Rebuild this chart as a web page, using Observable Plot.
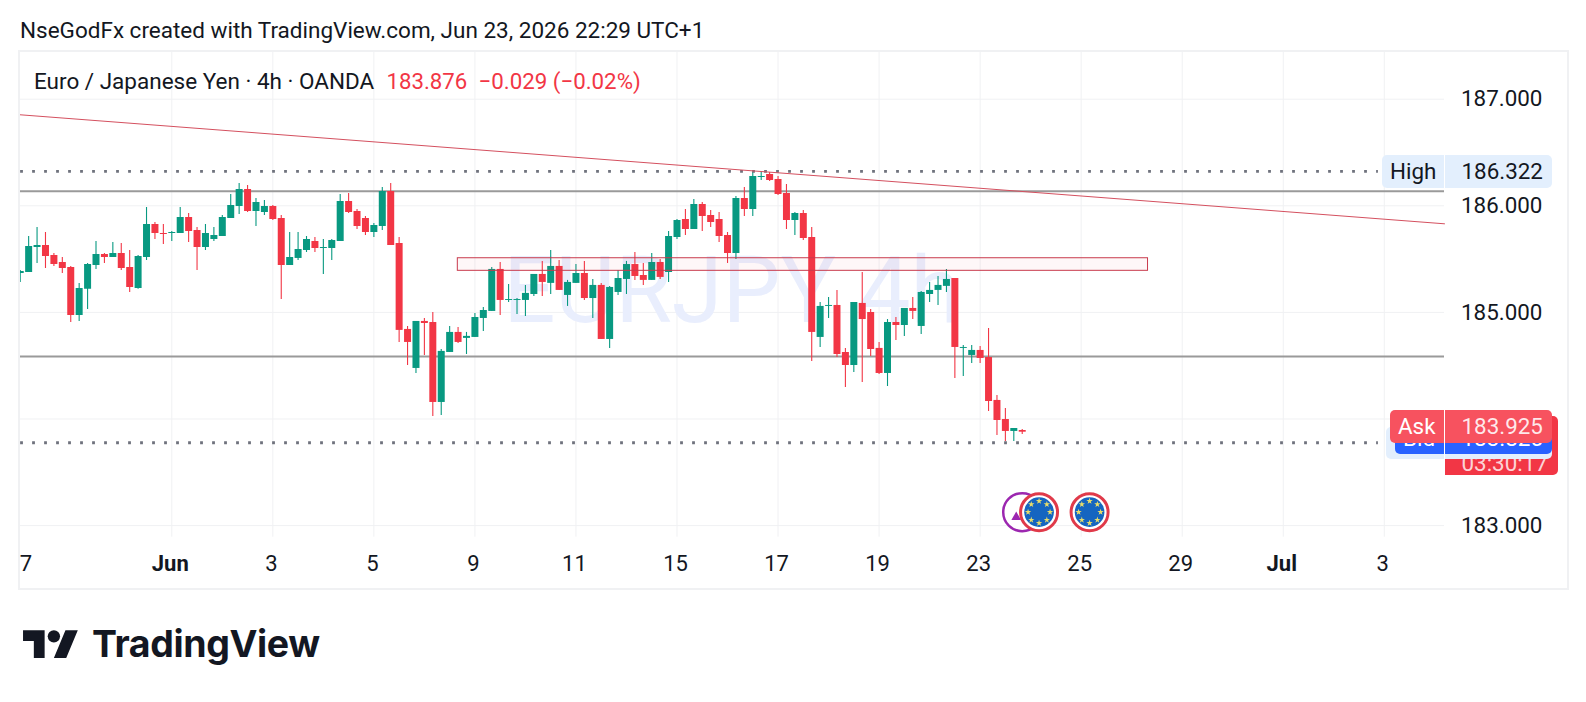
<!DOCTYPE html>
<html>
<head>
<meta charset="utf-8">
<script src="https://cdn.jsdelivr.net/npm/d3@7"></script>
<script src="https://cdn.jsdelivr.net/npm/@observablehq/plot@0.6"></script>
<style>
html,body{margin:0;padding:0;background:#fff;overflow:hidden}
#page{position:relative;width:1586px;height:702px;font-family:Roboto,sans-serif;color:#131722;overflow:hidden}
#page>svg{position:absolute;left:0;top:0}
.abs{position:absolute;white-space:nowrap;font-size:22.5px;line-height:1}
.pill{position:absolute;display:flex;align-items:center;font-size:22.4px;box-sizing:border-box;white-space:nowrap}
</style>
</head>
<body>
<div id="page"></div>
<script>
const open = [185.365,185.374,185.609,185.628,185.534,185.468,185.421,184.971,185.216,185.440,185.543,185.515,185.553,185.421,185.225,185.515,185.824,185.741,185.741,185.741,185.890,185.769,185.609,185.684,185.713,185.881,185.994,186.153,185.947,185.937,
185.994,185.881,185.440,185.506,185.581,185.666,185.600,185.600,185.666,186.041,185.947,185.881,185.750,185.806,186.134,185.647,184.840,184.474,184.915,184.905,184.155,184.624,184.812,184.756,184.765,184.943,185.009,185.403,185.112,185.112,
185.112,185.168,185.356,185.272,185.431,185.159,185.272,185.365,185.130,185.253,184.746,185.187,185.309,185.449,185.346,185.300,185.468,185.374,185.703,185.871,185.778,186.012,185.909,185.871,185.722,185.553,186.069,185.966,186.266,186.294,
186.247,186.116,185.862,185.928,185.703,184.765,185.056,185.065,184.624,184.502,185.084,184.999,184.662,184.427,184.905,184.877,185.037,184.868,185.168,185.206,185.244,185.318,184.662,184.596,184.643,184.577,184.174,183.995,183.883,183.892];
const high = [185.393,185.713,185.796,185.750,185.553,185.515,185.431,185.272,185.459,185.666,185.553,185.656,185.647,185.581,185.534,185.984,185.843,185.824,185.759,185.984,185.928,185.796,185.824,185.796,185.909,186.106,186.210,186.191,186.069,186.050,
186.003,185.909,185.750,185.750,185.713,185.703,185.684,185.684,186.106,186.116,185.966,185.900,185.834,186.172,186.210,185.703,184.868,184.915,184.943,184.999,184.652,184.868,184.859,184.812,184.990,185.046,185.421,185.468,185.262,185.130,
185.253,185.356,185.478,185.581,185.487,185.300,185.449,185.478,185.309,185.272,185.244,185.393,185.478,185.562,185.459,185.553,185.496,185.759,185.871,185.966,186.059,186.031,185.956,185.937,185.750,186.087,186.172,186.313,186.322,186.313,
186.275,186.200,185.937,185.956,185.796,185.093,185.140,185.206,184.662,185.093,185.374,185.027,184.718,184.933,184.952,185.037,185.140,185.196,185.281,185.337,185.403,185.318,184.690,184.690,184.680,184.849,184.221,184.099,183.911,183.901];
const low = [185.281,185.374,185.459,185.412,185.431,185.365,184.905,184.915,185.027,185.403,185.459,185.515,185.393,185.187,185.216,185.487,185.684,185.637,185.666,185.741,185.656,185.393,185.581,185.666,185.713,185.881,185.918,185.937,185.806,185.909,
185.862,185.121,185.440,185.487,185.562,185.562,185.356,185.487,185.666,185.928,185.778,185.722,185.703,185.769,185.628,184.718,184.502,184.427,184.596,184.024,184.033,184.624,184.709,184.605,184.765,184.821,185.009,184.971,185.093,184.980,
184.962,185.149,185.149,185.168,185.206,185.056,185.272,185.112,184.943,184.746,184.662,185.159,185.168,185.300,185.253,185.300,185.309,185.281,185.684,185.722,185.778,185.759,185.796,185.656,185.459,185.496,185.900,185.900,186.238,186.228,
186.097,185.778,185.722,185.675,184.540,184.671,184.943,184.577,184.296,184.437,184.343,184.587,184.418,184.305,184.737,184.775,184.933,184.793,185.093,185.065,185.187,184.380,184.399,184.521,184.521,184.070,183.845,183.789,183.789,183.854];
const close = [185.384,185.619,185.628,185.525,185.449,185.412,184.971,185.225,185.449,185.543,185.515,185.553,185.412,185.234,185.525,185.824,185.741,185.731,185.750,185.890,185.759,185.609,185.741,185.722,185.890,186.003,186.153,185.947,186.031,185.994,
185.871,185.440,185.515,185.590,185.684,185.600,185.609,185.675,186.041,185.937,185.806,185.750,185.815,186.134,185.628,184.831,184.718,184.915,184.896,184.155,184.634,184.812,184.718,184.775,184.952,185.018,185.403,185.112,185.121,185.121,
185.178,185.356,185.281,185.431,185.206,185.281,185.365,185.130,185.253,184.746,185.234,185.318,185.449,185.337,185.300,185.468,185.328,185.713,185.862,185.778,186.012,185.900,185.843,185.713,185.553,186.069,185.966,186.275,186.275,186.238,
186.106,185.862,185.928,185.694,184.812,185.056,185.065,184.605,184.502,185.093,184.933,184.652,184.427,184.905,184.877,185.037,185.009,185.187,185.206,185.253,185.309,184.671,184.671,184.643,184.568,184.164,183.986,183.883,183.911,183.876];

const priceTicks = [187,186,185,184,183];
const priceLabelTicks = [187,186,185,183];
const dayTicks = [0.86,30,42,54,66,78,90,102,114,126,138,162];
const dayLabels = ["7","3","5","9","11","15","17","19","23","25","29","3"];
const monthTicks = [18,150];
const monthLabels = ["Jun","Jul"];
const sessionHigh = 186.322;
const sessionLow = 183.777;
const levels = [186.137,184.586];
const trendBar = [-0.05,169.15];
const trendPrice = [186.854,185.831];
const zoneBar = [51.97,133.94];
const zonePrice = [185.39,185.508];
const euEventBars = [121,127];
const otherEventBars = [119];
const eventPrice = 183.126;
const watermark = "EURJPY 4h";

const GREEN = "#089981", RED = "#f23645", GRID = "#f0f1f3", INK = "#131722";
const FONT = "Roboto, sans-serif";
const candles = open.map((o,i)=>({i,o,h:high[i],l:low[i],c:close[i],col:close[i]>=o?GREEN:RED}));
const eu = euEventBars.map(b=>({b}));
const other = otherEventBars.map(b=>({b}));
const starAngles = d3.range(8).map(k=>k*Math.PI/4);
const starRadius = 11;

const chart = Plot.plot({
  width:1586, height:702,
  marginLeft:19.3, marginRight:142, marginTop:51, marginBottom:165.3,
  style:{background:"#fff", fontFamily:FONT, fontSize:"22px", color:INK},
  x:{domain:[-0.05,169.15]},
  y:{domain:[182.891,187.4475]},
  marks:[
    Plot.gridY(priceTicks,{stroke:GRID,strokeOpacity:1}),
    Plot.gridX([...monthTicks,...dayTicks.slice(1)],{stroke:GRID,strokeOpacity:1}),
    Plot.text([watermark],{frameAnchor:"middle",text:d=>d,fontSize:92,fill:"#e9eefd",fontFamily:FONT,dy:-2}),
    Plot.ruleY(levels,{stroke:"#9a9a9a",strokeWidth:2}),
    Plot.ruleX(candles,{x:"i",y1:"l",y2:"h",stroke:"col",strokeWidth:1.1,clip:true}),
    Plot.ruleX(candles,{x:"i",y1:"o",y2:"c",stroke:"col",strokeWidth:7,clip:true}),
    Plot.ruleY([sessionHigh,sessionLow],{x1:0,x2:161.3,stroke:"#6f727d",strokeWidth:2.8,strokeDasharray:"2.8 9.2",strokeDashoffset:-0.4}),
    Plot.line(trendBar.map((b,k)=>({b,p:trendPrice[k]})),{x:"b",y:"p",stroke:"#d4505f",strokeWidth:1}),
    Plot.rect([{a:zoneBar[0],b:zoneBar[1],c:zonePrice[0],d:zonePrice[1]}],{x1:"a",x2:"b",y1:"c",y2:"d",stroke:"#c93a4c",strokeWidth:1,fill:RED,fillOpacity:0.04}),
    Plot.dot(other,{x:"b",y:()=>eventPrice,r:19,fill:"#fff",stroke:"#9c27b0",strokeWidth:2.5}),
    Plot.dot(other,{x:"b",y:()=>eventPrice,r:3.6,symbol:"triangle",fill:"#9c27b0",dx:-6,dy:5}),
    Plot.dot(eu,{x:"b",y:()=>eventPrice,r:18.5,fill:"#fff",stroke:"#e03a4a",strokeWidth:3}),
    Plot.dot(eu,{x:"b",y:()=>eventPrice,r:14.8,fill:"#1565c0"}),
    ...starAngles.map(a=>Plot.dot(eu,{x:"b",y:()=>eventPrice,r:2,symbol:"star",fill:"#e8dd6a",dx:starRadius*Math.sin(a),dy:-starRadius*Math.cos(a)})),
    Plot.axisY({anchor:"right",ticks:priceLabelTicks,tickFormat:".3f",tickSize:0,tickPadding:16.5,fontSize:22.4,fill:INK,label:null}),
    Plot.axisX({anchor:"bottom",ticks:dayTicks,tickFormat:d=>dayLabels[dayTicks.indexOf(d)],tickSize:0,tickPadding:18,dx:-1.5,fontSize:22,fill:INK,label:null}),
    Plot.axisX({anchor:"bottom",ticks:monthTicks,tickFormat:d=>monthLabels[monthTicks.indexOf(d)],tickSize:0,tickPadding:18,dx:-1.5,fontSize:22,fontWeight:700,fill:INK,label:null})
  ]
});
const page = document.getElementById("page");
page.appendChild(chart);

function el(cls,styles,text){
  const d=document.createElement("div");
  d.className=cls;
  Object.assign(d.style,styles);
  if(text!==undefined)d.textContent=text;
  page.appendChild(d);
  return d;
}
// panel frame
el("abs",{left:"18px",top:"50px",width:"1547px",height:"536px",border:"2px solid #f0f1f3",pointerEvents:"none"});
// header + legend
el("abs",{left:"20px",top:"19px",color:INK},"NseGodFx created with TradingView.com, Jun 23, 2026 22:29 UTC+1");
el("abs",{left:"34px",top:"70px",color:INK},"Euro / Japanese Yen · 4h · OANDA");
el("abs",{left:"386.5px",top:"70px",color:RED,fontSize:"22.2px"},"183.876");
el("abs",{left:"478.5px",top:"70px",color:RED,fontSize:"22.3px"},"−0.029 (−0.02%)");

// price pills
const R="5px";
el("pill",{left:"1382px",top:"155px",width:"62px",height:"32.7px",background:"#e3effd",borderRadius:`${R} 0 0 ${R}`,paddingLeft:"8px",color:INK},"High");
el("pill",{left:"1445px",top:"155px",width:"107.3px",height:"32.7px",background:"#e3effd",borderRadius:`0 ${R} ${R} 0`,paddingLeft:"16.5px",color:INK},"186.322");
// countdown (behind)
el("pill",{left:"1445px",top:"416px",width:"113.3px",height:"59.3px",background:RED,borderRadius:`0 ${R} ${R} 0`,paddingLeft:"16.5px",paddingTop:"34px",color:"rgba(255,255,255,.8)"},"03:30:17");
// low pill
el("pill",{left:"1386px",top:"426.7px",width:"58px",height:"32.3px",background:"#e3effd",borderRadius:`${R} 0 0 ${R}`});
el("pill",{left:"1445px",top:"426.7px",width:"107.3px",height:"32.3px",background:"#e3effd",borderRadius:`0 ${R} ${R} 0`});
// bid pill
el("pill",{left:"1395px",top:"421.3px",width:"49px",height:"32.7px",background:"#2962ff",borderRadius:`${R} 0 0 ${R}`,paddingLeft:"8px",color:"#fff"},"Bid");
el("pill",{left:"1445px",top:"421.3px",width:"107.3px",height:"32.7px",background:"#2962ff",borderRadius:`0 ${R} ${R} 0`,paddingLeft:"16.5px",color:"#fff"},"183.825");
// ask pill
el("pill",{left:"1390px",top:"410px",width:"54px",height:"32.7px",background:"#f7525f",borderRadius:`${R} 0 0 ${R}`,paddingLeft:"8px",color:"#fff"},"Ask");
el("pill",{left:"1445px",top:"410px",width:"107.3px",height:"32.7px",background:"#f7525f",borderRadius:`0 ${R} ${R} 0`,paddingLeft:"16.5px",color:"rgba(255,255,255,.88)"},"183.925");

// TradingView logo
const ns="http://www.w3.org/2000/svg";
const logo=document.createElementNS(ns,"svg");
logo.setAttribute("viewBox","0 0 36 28");
logo.setAttribute("width","55.6");
logo.setAttribute("height","43.2");
logo.style.cssText="position:absolute;left:22.7px;top:623.8px;fill:#131722";
logo.innerHTML='<path d="M14 22H7V11H0V4h14v18zM28 22h-8l7.5-18h8L28 22z"/><circle cx="20" cy="8" r="4"/>';
page.appendChild(logo);
el("abs",{left:"92px",top:"625px",fontFamily:"Inter, sans-serif",fontWeight:"700",fontSize:"37.5px",letterSpacing:"-0.4px",color:"#131722"},"TradingView");
</script>
</body>
</html>
